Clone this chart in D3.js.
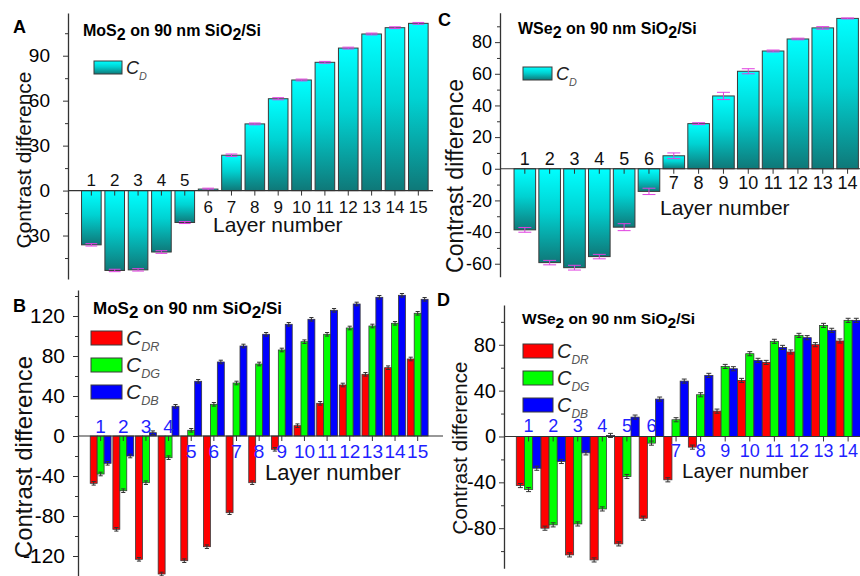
<!DOCTYPE html>
<html>
<head>
<meta charset="utf-8">
<script src="https://cdn.jsdelivr.net/npm/d3@7"></script>
<style>
  body { margin: 0; background: #fff; }
  text { font-family: Arial, 'Liberation Sans', sans-serif; }
</style>
</head>
<body>
<script>
// layer numbers
const mos2Layers = [1, 2, 3, 4, 5, 6, 7, 8, 9, 10, 11, 12, 13, 14, 15]
const wse2Layers = [1, 2, 3, 4, 5, 6, 7, 8, 9, 10, 11, 12, 13, 14]

// A: MoS2 total contrast difference
const mos2CD = [-36.2, -53.3, -52.9, -41.0, -21.3, 1.0, 23.6, 44.5, 61.3, 73.8, 85.6, 95.1, 104.5, 108.7, 111.6]
const mos2CDErr = [0.8, 0.8, 0.8, 0.9, 0.7, 0.6, 0.8, 0.6, 0.7, 0.6, 0.6, 0.6, 0.6, 0.6, 0.6]

// C: WSe2 total contrast difference
const wse2CD = [-38.6, -59.3, -62.5, -55.5, -36.9, -14.3, 8.2, 28.5, 46.0, 61.6, 74.4, 82.0, 89.0, 95.0]
const wse2CDErr = [1.5, 1.4, 1.5, 1.4, 2.2, 2.0, 1.8, 0.6, 2.3, 1.6, 0.6, 0.5, 0.8, 0.3]

// B: MoS2 per channel
const mos2CDR = [-47.3, -93.3, -123.3, -138.0, -124.7, -110.7, -76.7, -46.7, -13.3, 10.3, 32.7, 51.0, 61.7, 68.3, 77.0]
const mos2CDG = [-38.0, -54.7, -46.7, -21.7, 5.7, 31.7, 53.0, 72.0, 86.0, 94.3, 101.7, 108.0, 110.0, 112.7, 122.7]
const mos2CDB = [-27.3, -20.0, 3.3, 29.7, 54.7, 74.0, 90.0, 101.7, 111.7, 116.7, 125.7, 132.0, 138.7, 140.7, 136.7]

// D: WSe2 per channel
const wse2CDR = [-42.8, -80.0, -103.3, -107.7, -93.7, -71.3, -37.8, -9.3, 22.1, 48.9, 64.6, 73.7, 80.1, 83.3]
const wse2CDG = [-46.3, -77.1, -76.3, -63.2, -34.9, -5.8, 14.6, 36.4, 61.1, 72.2, 83.0, 88.2, 96.9, 101.3]
const wse2CDB = [-27.7, -21.8, -14.3, 0.9, 16.9, 32.6, 48.3, 53.3, 59.1, 66.4, 77.7, 86.2, 92.6, 101.3]
const channelErr = 1.8

// tick values
const yTicksA = [-30, 0, 30, 60, 90]
const yMinorA = [-45, -15, 15, 45, 75, 105]
const yTicksC = [-60, -40, -20, 0, 20, 40, 60, 80]
const yMinorC = [-50, -30, -10, 10, 30, 50, 70, 90]
const yTicksB = [-120, -80, -40, 0, 40, 80, 120]
const yMinorB = [-140, -100, -60, -20, 20, 60, 100, 140]
const yTicksD = [-80, -40, 0, 40, 80]
const yMinorD = [-100, -60, -20, 20, 60, 100]

const svg = d3.select('body').append('svg')
  .attr('width', 860)
  .attr('height', 576)

const defs = svg.append('defs')
const grad = defs.append('linearGradient')
  .attr('id', 'cyanGrad')
  .attr('x1', 0).attr('y1', 0).attr('x2', 0).attr('y2', 1)
grad.append('stop').attr('offset', '0%').attr('stop-color', '#00ffff')
grad.append('stop').attr('offset', '45%').attr('stop-color', '#00d2d2')
grad.append('stop').attr('offset', '100%').attr('stop-color', '#0f7878')

// writes text pieces, second item true = subscript
function richText(g, x, y, parts, size, opts) {
  const t = g.append('text')
    .attr('x', x).attr('y', y)
    .attr('font-size', size)
    .attr('font-weight', opts.bold ? 'bold' : 'normal')
    .attr('font-style', opts.italic ? 'italic' : 'normal')
    .attr('fill', opts.color || '#000')
  let shifted = false
  parts.forEach(p => {
    const span = t.append('tspan').text(p[0])
    if (p[1] && !shifted) {
      span.attr('dy', opts.subDy).attr('font-size', opts.subSize)
      if (opts.subColor) span.attr('fill', opts.subColor)
      shifted = true
    } else if (!p[1] && shifted) {
      span.attr('dy', -opts.subDy)
      shifted = false
    }
  })
  return t
}

function drawPanel(cfg) {
  const g = svg.append('g')
  const x = d3.scaleLinear()
    .domain([0, cfg.layers.length + 0.5])
    .range([cfg.axisX, cfg.xEnd])
  const y = d3.scaleLinear()
    .domain(cfg.yDomain)
    .range([cfg.yBottom, cfg.yTop])
  const step = x(1) - x(0)
  const n = cfg.series.length
  const bw = step * cfg.groupFrac / n

  cfg.series.forEach((s, si) => {
    const off = (si - (n - 1) / 2) * bw
    const cx = i => x(cfg.layers[i]) + off
    g.selectAll(null)
      .data(s.values)
      .enter()
      .append('rect')
      .attr('x', (d, i) => cx(i) - bw / 2)
      .attr('y', d => y(Math.max(0, d)))
      .attr('width', bw)
      .attr('height', d => Math.abs(y(d) - y(0)))
      .attr('fill', s.fill)
      .attr('stroke', '#3a3a3a')
      .attr('stroke-width', cfg.strokeW)

    // error bars
    const errs = s.values.map((d, i) => ({ v: d, e: s.err[i], i: i }))
    const eb = g.selectAll(null).data(errs).enter().append('g')
      .attr('stroke', cfg.errColor)
      .attr('stroke-width', 1)
    eb.append('line')
      .attr('x1', d => cx(d.i)).attr('x2', d => cx(d.i))
      .attr('y1', d => y(d.v - d.e)).attr('y2', d => y(d.v + d.e))
    ;[-1, 1].forEach(sgn => {
      eb.append('line')
        .attr('x1', d => cx(d.i) - bw * 0.3).attr('x2', d => cx(d.i) + bw * 0.3)
        .attr('y1', d => y(d.v + sgn * d.e)).attr('y2', d => y(d.v + sgn * d.e))
    })
  })

  // zero line with small ticks
  g.append('line')
    .attr('x1', cfg.axisX).attr('x2', cfg.zeroEnd)
    .attr('y1', y(0)).attr('y2', y(0))
    .attr('stroke', '#333').attr('stroke-width', 1.2)
  g.selectAll(null).data(cfg.layers).enter().append('line')
    .attr('x1', d => x(d)).attr('x2', d => x(d))
    .attr('y1', y(0)).attr('y2', y(0) + 5)
    .attr('stroke', '#333').attr('stroke-width', 1)

  // layer labels
  g.selectAll(null).data(cfg.layers).enter().append('text')
    .attr('x', d => x(d))
    .attr('y', (d, i) => i < cfg.nAbove ? y(0) - cfg.aboveGap : y(0) + cfg.belowGap)
    .attr('text-anchor', 'middle')
    .attr('font-size', cfg.layerFont)
    .attr('fill', cfg.layerColor)
    .text(d => d)

  // y axis
  const minor = g.append('g')
    .attr('transform', 'translate(' + cfg.axisX + ',0)')
    .call(d3.axisLeft(y).tickValues(cfg.yMinor.filter(v => v >= cfg.yDomain[0] && v <= cfg.yDomain[1]))
      .tickSize(3).tickSizeOuter(0).tickFormat(''))
  minor.select('.domain').remove()
  minor.selectAll('line').attr('stroke', '#333')
  const ax = g.append('g')
    .attr('transform', 'translate(' + cfg.axisX + ',0)')
    .call(d3.axisLeft(y).tickValues(cfg.yTicks).tickSize(5).tickSizeOuter(0)
      .tickPadding(cfg.tickPad).tickFormat(d => String(d)))
  ax.select('.domain').attr('stroke', '#333').attr('stroke-width', 1.3)
  ax.selectAll('line').attr('stroke', '#333')
  ax.selectAll('text')
    .attr('font-size', cfg.tickFont)
    .attr('font-family', "Arial, 'Liberation Sans', sans-serif")
    .attr('fill', '#000')

  // axis titles
  g.append('text')
    .attr('transform', 'translate(' + cfg.yTitle[0] + ',' + cfg.yTitle[1] + ') rotate(-90)')
    .attr('text-anchor', 'middle')
    .attr('font-size', cfg.yTitleFont)
    .attr('fill', '#111')
    .text('Contrast difference')
  g.append('text')
    .attr('x', cfg.xTitle[0]).attr('y', cfg.xTitle[1])
    .attr('font-size', cfg.xTitleFont)
    .attr('fill', '#111')
    .text('Layer number')

  // panel letter and sample title
  g.append('text')
    .attr('x', cfg.letterPos[0]).attr('y', cfg.letterPos[1])
    .attr('font-size', 18).attr('font-weight', 'bold')
    .text(cfg.letter)
  richText(g, cfg.titlePos[0], cfg.titlePos[1], cfg.title, cfg.titleFont,
    { bold: true, subDy: 4, subSize: cfg.titleFont })

  // legend
  cfg.series.forEach((s, si) => {
    const ly = cfg.legend.y + si * cfg.legend.gap
    g.append('rect')
      .attr('x', cfg.legend.x).attr('y', ly)
      .attr('width', cfg.legend.w).attr('height', cfg.legend.h)
      .attr('fill', s.fill).attr('stroke', '#3a3a3a').attr('stroke-width', 1)
    richText(g, cfg.legend.x + cfg.legend.w + 4, ly + cfg.legend.h, [['C', 0], [s.sub, 1]],
      cfg.legend.font, { italic: true, subDy: 6, subSize: cfg.legend.font * 0.6, color: '#222', subColor: '#555' })
  })
}

const titleMoS2 = [['MoS', 0], ['2', 1], [' on 90 nm SiO', 0], ['2', 1], ['/Si', 0]]
const titleWSe2 = [['WSe', 0], ['2', 1], [' on 90 nm SiO', 0], ['2', 1], ['/Si', 0]]

drawPanel({
  letter: 'A', letterPos: [13, 33], title: titleMoS2, titlePos: [83, 36], titleFont: 16,
  layers: mos2Layers,
  series: [{ values: mos2CD, err: mos2CDErr, fill: 'url(#cyanGrad)', sub: 'D' }],
  axisX: 68, xEnd: 430, zeroEnd: 433, yDomain: [-59, 118.5], yBottom: 279, yTop: 13,
  groupFrac: 0.84, strokeW: 1, errColor: '#e040e0',
  yTicks: yTicksA, yMinor: yMinorA, tickPad: 13, tickFont: 19,
  nAbove: 5, aboveGap: 5, belowGap: 22, layerFont: 17, layerColor: '#111',
  yTitle: [31, 160], yTitleFont: 21, xTitle: [213, 232], xTitleFont: 21,
  legend: { x: 94, y: 61, w: 28, h: 13, gap: 27, font: 18 }
})

drawPanel({
  letter: 'C', letterPos: [438, 26], title: titleWSe2, titlePos: [518, 34], titleFont: 16,
  layers: wse2Layers,
  series: [{ values: wse2CD, err: wse2CDErr, fill: 'url(#cyanGrad)', sub: 'D' }],
  axisX: 500, xEnd: 860, zeroEnd: 860, yDomain: [-68.2, 98.6], yBottom: 276.7, yTop: 12.7,
  groupFrac: 0.87, strokeW: 1, errColor: '#e040e0',
  yTicks: yTicksC, yMinor: yMinorC, tickPad: 3, tickFont: 18,
  nAbove: 6, aboveGap: 4, belowGap: 20, layerFont: 18, layerColor: '#111',
  yTitle: [463, 176], yTitleFont: 23, xTitle: [660, 215], xTitleFont: 21,
  legend: { x: 523, y: 67, w: 29, h: 13, gap: 27, font: 18 }
})

drawPanel({
  letter: 'B', letterPos: [13, 312], title: titleMoS2, titlePos: [93, 314], titleFont: 17,
  layers: mos2Layers,
  series: [
    { values: mos2CDR, err: mos2CDR.map(() => channelErr), fill: '#ff0000', sub: 'DR' },
    { values: mos2CDG, err: mos2CDG.map(() => channelErr), fill: '#00ff00', sub: 'DG' },
    { values: mos2CDB, err: mos2CDB.map(() => channelErr), fill: '#0000ff', sub: 'DB' }
  ],
  axisX: 78, xEnd: 429, zeroEnd: 443, yDomain: [-140, 146], yBottom: 576, yTop: 290,
  groupFrac: 0.92, strokeW: 0.8, errColor: '#333',
  yTicks: yTicksB, yMinor: yMinorB, tickPad: 8, tickFont: 21,
  nAbove: 4, aboveGap: 3, belowGap: 22, layerFont: 19, layerColor: '#1f1fff',
  yTitle: [32, 457], yTitleFont: 24, xTitle: [265, 480], xTitleFont: 22,
  legend: { x: 91, y: 331, w: 31, h: 14, gap: 27, font: 21 }
})

drawPanel({
  letter: 'D', letterPos: [437, 306], title: titleWSe2, titlePos: [522, 324], titleFont: 15.5,
  layers: wse2Layers,
  series: [
    { values: wse2CDR, err: wse2CDR.map(() => channelErr), fill: '#ff0000', sub: 'DR' },
    { values: wse2CDG, err: wse2CDG.map(() => channelErr), fill: '#00ff00', sub: 'DG' },
    { values: wse2CDB, err: wse2CDB.map(() => channelErr), fill: '#0000ff', sub: 'DB' }
  ],
  axisX: 504, xEnd: 860.4, zeroEnd: 860, yDomain: [-115, 114.7], yBottom: 568.3, yTop: 305,
  groupFrac: 1.0, strokeW: 0.8, errColor: '#333',
  yTicks: yTicksD, yMinor: yMinorD, tickPad: 3, tickFont: 20,
  nAbove: 6, aboveGap: 4, belowGap: 21, layerFont: 18, layerColor: '#1f1fff',
  yTitle: [467, 448], yTitleFont: 20.5, xTitle: [682, 478], xTitleFont: 20.5,
  legend: { x: 523, y: 344, w: 30, h: 14, gap: 27, font: 20 }
})
</script>
</body>
</html>
